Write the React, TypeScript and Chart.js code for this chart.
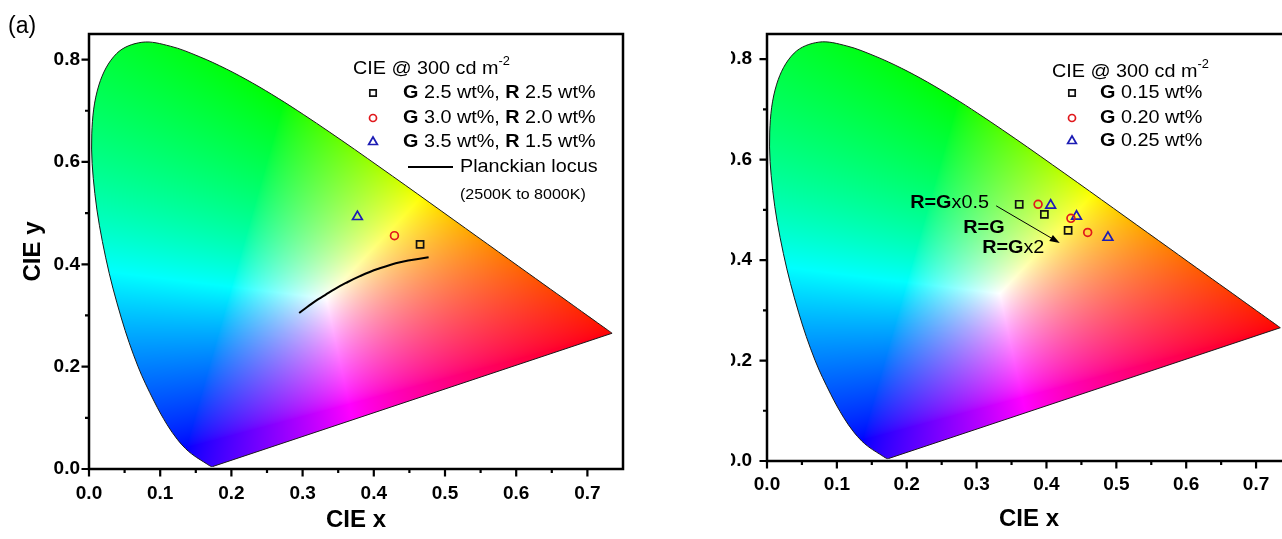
import React, { useEffect, useRef } from 'react';
import { Chart, registerables } from 'chart.js';

Chart.register(...registerables);

const FONT = '"Liberation Sans", Arial, Helvetica, sans-serif';
Chart.defaults.font.family = FONT;

// CIE 1931 2° spectral locus, 380–700 nm in 5 nm steps
const locusX = [0.1741, 0.1740, 0.1738, 0.1736, 0.1733, 0.1730, 0.1726, 0.1721, 0.1714, 0.1703, 0.1689, 0.1669, 0.1644, 0.1611, 0.1566, 0.1510, 0.1440, 0.1355, 0.1241, 0.1096, 0.0913, 0.0687, 0.0454, 0.0235, 0.0082, 0.0039, 0.0139, 0.0389, 0.0743, 0.1142, 0.1547, 0.1929, 0.2296, 0.2658, 0.3016, 0.3373, 0.3731, 0.4087, 0.4441, 0.4788, 0.5125, 0.5448, 0.5752, 0.6029, 0.6270, 0.6482, 0.6658, 0.6801, 0.6915, 0.7006, 0.7079, 0.7140, 0.7190, 0.7230, 0.7260, 0.7283, 0.7300, 0.7311, 0.7320, 0.7327, 0.7334, 0.7340, 0.7344, 0.7346, 0.7347];
const locusY = [0.0050, 0.0050, 0.0049, 0.0049, 0.0048, 0.0048, 0.0048, 0.0048, 0.0051, 0.0058, 0.0069, 0.0086, 0.0109, 0.0138, 0.0177, 0.0227, 0.0297, 0.0399, 0.0578, 0.0868, 0.1327, 0.2007, 0.2950, 0.4127, 0.5384, 0.6548, 0.7502, 0.8120, 0.8338, 0.8262, 0.8059, 0.7816, 0.7543, 0.7243, 0.6923, 0.6589, 0.6245, 0.5896, 0.5547, 0.5202, 0.4866, 0.4544, 0.4242, 0.3965, 0.3725, 0.3514, 0.3340, 0.3197, 0.3083, 0.2993, 0.2920, 0.2859, 0.2809, 0.2770, 0.2740, 0.2717, 0.2700, 0.2689, 0.2680, 0.2673, 0.2666, 0.2660, 0.2656, 0.2654, 0.2653];

// Planckian locus 8000 K -> 2500 K
const planckX = [0.2952, 0.3064, 0.3135, 0.3221, 0.3325, 0.3451, 0.3608, 0.3805, 0.4053, 0.4369, 0.4770];
const planckY = [0.3048, 0.3166, 0.3237, 0.3318, 0.3408, 0.3516, 0.3635, 0.3768, 0.3907, 0.4041, 0.4137];

// Axis ticks
const xTicks = [0, 0.1, 0.2, 0.3, 0.4, 0.5, 0.6, 0.7];
const xMinorTicks = [0.05, 0.15, 0.25, 0.35, 0.45, 0.55, 0.65];
const yTicks = [0, 0.2, 0.4, 0.6, 0.8];
const yMinorTicks = [0.1, 0.3, 0.5, 0.7];

// Panel (a): G + R doping
const leftLegendG = ['2.5', '3.0', '3.5'];
const leftLegendR = ['2.5', '2.0', '1.5'];
const leftPointsX = [0.465, 0.429, 0.377];
const leftPointsY = [0.439, 0.456, 0.493];

// Panel (b): G doping, three R ratios each
const rightLegendG = ['0.15', '0.20', '0.25'];
const rightSquareX = [0.361, 0.397, 0.431];
const rightSquareY = [0.511, 0.491, 0.459];
const rightCircleX = [0.388, 0.435, 0.459];
const rightCircleY = [0.511, 0.483, 0.455];
const rightTriangleX = [0.406, 0.443, 0.488];
const rightTriangleY = [0.509, 0.487, 0.445];

const ratioSuffix = ['x0.5', '', 'x2'];
const ratioLabelX = [0.205, 0.281, 0.308];
const ratioLabelY = [0.514, 0.464, 0.424];
const arrowX = [0.328, 0.419];
const arrowY = [0.508, 0.434];

const legendTitle = 'CIE @ 300 cd m';
const legendTitleSup = '-2';
const planckLabel = 'Planckian locus';
const planckRange = '(2500K to 8000K)';
const panelLabel = '(a)';

const SERIES = [
  { style: 'rect', color: '#111111', r: 5 },
  { style: 'circle', color: '#e0181c', r: 3.9 },
  { style: 'triangle', color: '#1c1cb4', r: 5.6 },
];

const pts = (xs: number[], ys: number[]) => xs.map((x, i) => ({ x, y: ys[i] }));

// ---- colour rendering of the chromaticity plane ----
type M3 = number[][];
function inv3(m: M3): M3 {
  const [a, b, c] = m[0], [d, e, f] = m[1], [g, h, i] = m[2];
  const A = e * i - f * h, B = -(d * i - f * g), C = d * h - e * g;
  const det = a * A + b * B + c * C;
  return [
    [A / det, -(b * i - c * h) / det, (b * f - c * e) / det],
    [B / det, (a * i - c * g) / det, -(a * f - c * d) / det],
    [C / det, -(a * h - b * g) / det, (a * e - b * d) / det],
  ];
}
function buildXyzToRgb(): M3 {
  const prim = [[0.735, 0.265], [0.274, 0.717], [0.137, 0.042]];
  const cols = prim.map(([x, y]) => [x / y, 1, (1 - x - y) / y]);
  const M = [0, 1, 2].map((r) => cols.map((c) => c[r]));
  const S = inv3(M).map((row) => row[0] + row[1] + row[2]); // white E = (1,1,1)
  const Ms = M.map((row) => row.map((v, j) => v * S[j]));
  return inv3(Ms);
}
const XYZ2RGB = buildXyzToRgb();

function xyToRgb(x: number, y: number): [number, number, number] {
  const yy = Math.max(y, 1e-4);
  const v = [x / yy, 1, (1 - x - yy) / yy];
  const out = XYZ2RGB.map((row) => Math.max(0, row[0] * v[0] + row[1] * v[1] + row[2] * v[2]));
  const m = Math.max(out[0], out[1], out[2], 1e-6);
  return out.map((c) => Math.pow(c / m, 0.72) * 255) as [number, number, number];
}

type Seg = { t: string; bold?: boolean; size?: number; dy?: number };
function drawRich(ctx: CanvasRenderingContext2D, x: number, y: number, segs: Seg[], size: number, sx = 1.07) {
  ctx.save();
  ctx.translate(x, y);
  ctx.scale(sx, 1);
  ctx.textBaseline = 'middle';
  ctx.textAlign = 'left';
  ctx.fillStyle = '#000';
  let cx = 0;
  for (const s of segs) {
    ctx.font = `${s.bold ? 'bold ' : ''}${s.size ?? size}px ${FONT}`;
    ctx.fillText(s.t, cx, s.dy ?? 0);
    cx += ctx.measureText(s.t).width;
  }
  ctx.restore();
}

function drawMarker(ctx: CanvasRenderingContext2D, kind: string, x: number, y: number, color: string, r: number) {
  ctx.save();
  ctx.strokeStyle = color;
  ctx.lineWidth = 1.7;
  ctx.beginPath();
  if (kind === 'rect') {
    const h = r * Math.SQRT1_2;
    ctx.rect(x - h, y - h, 2 * h, 2 * h);
  } else if (kind === 'circle') {
    ctx.arc(x, y, r, 0, Math.PI * 2);
  } else {
    ctx.moveTo(x, y - r);
    ctx.lineTo(x + r * 0.866, y + r * 0.5);
    ctx.lineTo(x - r * 0.866, y + r * 0.5);
    ctx.closePath();
  }
  ctx.stroke();
  ctx.restore();
}

function makePlugin(extra: (chart: any) => void) {
  let cache: HTMLCanvasElement | null = null;
  return {
    id: 'cie',
    beforeDatasetsDraw(chart: any) {
      const { ctx, chartArea: ca, scales } = chart;
      const xs = scales.x, ys = scales.y;
      const L = Math.floor(ca.left), T = Math.floor(ca.top);
      const W = Math.ceil(ca.right) - L, H = Math.ceil(ca.bottom) - T;
      if (!cache) {
        cache = document.createElement('canvas');
        cache.width = W; cache.height = H;
        const c2 = cache.getContext('2d')!;
        const img = c2.createImageData(W, H);
        for (let py = 0; py < H; py++) {
          const vy = ys.getValueForPixel(T + py + 0.5);
          for (let px = 0; px < W; px++) {
            const vx = xs.getValueForPixel(L + px + 0.5);
            const [r, g, b] = xyToRgb(vx, vy);
            const i = (py * W + px) * 4;
            img.data[i] = r; img.data[i + 1] = g; img.data[i + 2] = b; img.data[i + 3] = 255;
          }
        }
        c2.putImageData(img, 0, 0);
      }
      // clip to the (smoothed) spectral locus, closed by the purple line
      const el = chart.getDatasetMeta(0).data;
      ctx.save();
      ctx.beginPath();
      el.forEach((p: any, i: number) => {
        if (i === 0) { ctx.moveTo(p.x, p.y); return; }
        const q = el[i - 1];
        if (q.cp2x !== undefined && p.cp1x !== undefined) ctx.bezierCurveTo(q.cp2x, q.cp2y, p.cp1x, p.cp1y, p.x, p.y);
        else ctx.lineTo(p.x, p.y);
      });
      ctx.closePath();
      ctx.clip();
      ctx.drawImage(cache, L, T);
      ctx.restore();
    },
    afterDraw(chart: any) {
      const { ctx, chartArea: ca, scales } = chart;
      const xs = scales.x, ys = scales.y;
      ctx.save();
      ctx.strokeStyle = '#000';
      ctx.lineWidth = 2.5;
      ctx.strokeRect(ca.left, ca.top, ca.right - ca.left, ca.bottom - ca.top);
      ctx.lineWidth = 2.2;
      ctx.beginPath();
      xTicks.forEach((v) => { const p = xs.getPixelForValue(v); ctx.moveTo(p, ca.bottom); ctx.lineTo(p, ca.bottom + 7.5); });
      xMinorTicks.forEach((v) => { const p = xs.getPixelForValue(v); ctx.moveTo(p, ca.bottom); ctx.lineTo(p, ca.bottom + 4); });
      yTicks.forEach((v) => { const p = ys.getPixelForValue(v); ctx.moveTo(ca.left, p); ctx.lineTo(ca.left - 7.5, p); });
      yMinorTicks.forEach((v) => { const p = ys.getPixelForValue(v); ctx.moveTo(ca.left, p); ctx.lineTo(ca.left - 4, p); });
      ctx.stroke();
      ctx.restore();
      extra(chart);
    },
  };
}

function makeScales(o: { xHeight: number; yWidth: number; xPad: number; yPad: number; xTitlePad: number; yTitlePad: number; showYTitle: boolean }) {
  const tickFont = { family: FONT, size: 19, weight: 'bold' as const };
  const titleFont = { family: FONT, size: 24, weight: 'bold' as const };
  return {
    x: {
      type: 'linear' as const, position: 'bottom' as const, min: 0, max: 0.75,
      afterBuildTicks: (s: any) => { s.ticks = xTicks.map((v) => ({ value: v })); },
      afterFit: (s: any) => { s.height = o.xHeight; },
      grid: { display: false, drawTicks: false }, border: { display: false },
      ticks: { padding: o.xPad, color: '#000', font: tickFont, autoSkip: false, maxRotation: 0, callback: (v: any) => Number(v).toFixed(1) },
      title: { display: true, text: 'CIE x', color: '#000', font: titleFont, padding: { top: 0, bottom: o.xTitlePad } },
    },
    y: {
      type: 'linear' as const, position: 'left' as const, min: 0, max: 0.85,
      afterBuildTicks: (s: any) => { s.ticks = yTicks.map((v) => ({ value: v })); },
      afterFit: (s: any) => { s.width = o.yWidth; },
      grid: { display: false, drawTicks: false }, border: { display: false },
      ticks: { padding: o.yPad, color: '#000', font: tickFont, autoSkip: false, callback: (v: any) => Number(v).toFixed(1) },
      title: { display: o.showYTitle, text: 'CIE y', color: '#000', font: titleFont, padding: { top: o.yTitlePad, bottom: 0 } },
    },
  };
}

function locusDatasets() {
  return [
    {
      label: 'spectral locus',
      data: pts(locusX, locusY),
      showLine: true, pointRadius: 0, borderColor: '#1a1a1a', borderWidth: 1, fill: false, tension: 0.35,
    },
    {
      label: 'purple line',
      data: pts([locusX[locusX.length - 1], locusX[0]], [locusY[locusY.length - 1], locusY[0]]),
      showLine: true, pointRadius: 0, borderColor: '#1a1a1a', borderWidth: 1, fill: false,
    },
  ];
}

function markerDataset(label: string, xs: number[], ys: number[], k: number) {
  const s = SERIES[k];
  return {
    label, data: pts(xs, ys), showLine: false, pointStyle: s.style, pointRadius: s.r,
    borderColor: s.color, backgroundColor: 'rgba(0,0,0,0)', pointBorderWidth: 1.7, borderWidth: 1.7,
  };
}

function leftConfig(): any {
  const extra = (chart: any) => {
    const ctx: CanvasRenderingContext2D = chart.ctx;
    ctx.save();
    ctx.font = `23px ${FONT}`;
    ctx.fillStyle = '#000';
    ctx.textBaseline = 'middle';
    ctx.fillText(panelLabel, 8, 27);
    ctx.restore();
    drawRich(ctx, 353, 69, [{ t: legendTitle }, { t: legendTitleSup, size: 12, dy: -7 }], 18.5);
    const rowsY = [93, 118, 142];
    rowsY.forEach((yy, i) => {
      drawMarker(ctx, SERIES[i].style, 373, yy, SERIES[i].color, SERIES[i].r * 0.9);
      drawRich(ctx, 403, yy, [{ t: 'G', bold: true }, { t: ` ${leftLegendG[i]} wt%, ` }, { t: 'R', bold: true }, { t: ` ${leftLegendR[i]} wt%` }], 18.5);
    });
    ctx.save();
    ctx.strokeStyle = '#000';
    ctx.lineWidth = 2;
    ctx.beginPath(); ctx.moveTo(408, 167); ctx.lineTo(453, 167); ctx.stroke();
    ctx.restore();
    drawRich(ctx, 460, 167, [{ t: planckLabel }], 18.5);
    drawRich(ctx, 460, 195, [{ t: planckRange }], 15);
  };
  return {
    type: 'scatter',
    data: {
      datasets: [
        ...locusDatasets(),
        { label: 'Planckian locus', data: pts(planckX, planckY), showLine: true, pointRadius: 0, borderColor: '#000', borderWidth: 2, tension: 0.4 },
        markerDataset('G2.5R2.5', [leftPointsX[0]], [leftPointsY[0]], 0),
        markerDataset('G3.0R2.0', [leftPointsX[1]], [leftPointsY[1]], 1),
        markerDataset('G3.5R1.5', [leftPointsX[2]], [leftPointsY[2]], 2),
      ],
    },
    options: {
      animation: false, responsive: false, devicePixelRatio: 1, events: [],
      layout: { padding: { top: 34, right: 17, left: 0, bottom: 0 } },
      plugins: { legend: { display: false }, tooltip: { enabled: false } },
      scales: makeScales({ xHeight: 70, yWidth: 89, xPad: 13, yPad: 9, xTitlePad: 4, yTitlePad: 19, showYTitle: true }),
    },
    plugins: [makePlugin(extra)],
  };
}

function rightConfig(): any {
  const OX = 700;
  const extra = (chart: any) => {
    const ctx: CanvasRenderingContext2D = chart.ctx;
    const xs = chart.scales.x, ys = chart.scales.y;
    drawRich(ctx, 1052 - OX, 72, [{ t: legendTitle }, { t: legendTitleSup, size: 12, dy: -7 }], 18.5);
    const rowsY = [93, 118, 141];
    rowsY.forEach((yy, i) => {
      drawMarker(ctx, SERIES[i].style, 1072 - OX, yy, SERIES[i].color, SERIES[i].r * 0.9);
      drawRich(ctx, 1100 - OX, yy, [{ t: 'G', bold: true }, { t: ` ${rightLegendG[i]} wt%` }], 18.5);
    });
    ratioSuffix.forEach((suf, i) => {
      const segs: Seg[] = [{ t: 'R=G', bold: true }];
      if (suf) segs.push({ t: suf });
      drawRich(ctx, xs.getPixelForValue(ratioLabelX[i]), ys.getPixelForValue(ratioLabelY[i]), segs, 18.5);
    });
    const x0 = xs.getPixelForValue(arrowX[0]), y0 = ys.getPixelForValue(arrowY[0]);
    const x1 = xs.getPixelForValue(arrowX[1]), y1 = ys.getPixelForValue(arrowY[1]);
    const ang = Math.atan2(y1 - y0, x1 - x0);
    ctx.save();
    ctx.strokeStyle = '#000'; ctx.fillStyle = '#000'; ctx.lineWidth = 1;
    ctx.beginPath(); ctx.moveTo(x0, y0); ctx.lineTo(x1 - 6 * Math.cos(ang), y1 - 6 * Math.sin(ang)); ctx.stroke();
    ctx.beginPath();
    ctx.moveTo(x1, y1);
    ctx.lineTo(x1 - 10 * Math.cos(ang) + 3.5 * Math.sin(ang), y1 - 10 * Math.sin(ang) - 3.5 * Math.cos(ang));
    ctx.lineTo(x1 - 10 * Math.cos(ang) - 3.5 * Math.sin(ang), y1 - 10 * Math.sin(ang) + 3.5 * Math.cos(ang));
    ctx.closePath(); ctx.fill();
    ctx.restore();
  };
  return {
    type: 'scatter',
    data: {
      datasets: [
        ...locusDatasets(),
        markerDataset('G0.15', rightSquareX, rightSquareY, 0),
        markerDataset('G0.20', rightCircleX, rightCircleY, 1),
        markerDataset('G0.25', rightTriangleX, rightTriangleY, 2),
      ],
    },
    options: {
      animation: false, responsive: false, devicePixelRatio: 1, events: [],
      layout: { padding: { top: 34, right: 49, left: 0, bottom: 0 } },
      plugins: { legend: { display: false }, tooltip: { enabled: false } },
      scales: makeScales({ xHeight: 78, yWidth: 67, xPad: 12, yPad: 15, xTitlePad: 5, yTitlePad: 0, showYTitle: false }),
    },
    plugins: [makePlugin(extra)],
  };
}

export default function App() {
  const leftRef = useRef<HTMLCanvasElement>(null);
  const rightRef = useRef<HTMLCanvasElement>(null);
  useEffect(() => {
    const c1 = new Chart(leftRef.current!, leftConfig());
    const c2 = new Chart(rightRef.current!, rightConfig());
    return () => { c1.destroy(); c2.destroy(); };
  }, []);
  return (
    <div>
      <div style={{ position: 'absolute', left: 0, top: 0, width: 640, height: 539, overflow: 'hidden', background: '#fff' }}>
        <canvas ref={leftRef} width={640} height={539} style={{ position: 'absolute', left: 0, top: 0, width: 640, height: 539 }} />
      </div>
      <div style={{ position: 'absolute', left: 731, top: 0, width: 551, height: 539, overflow: 'hidden', background: '#fff' }}>
        <canvas ref={rightRef} width={640} height={539} style={{ position: 'absolute', left: -31, top: 0, width: 640, height: 539 }} />
      </div>
    </div>
  );
}
